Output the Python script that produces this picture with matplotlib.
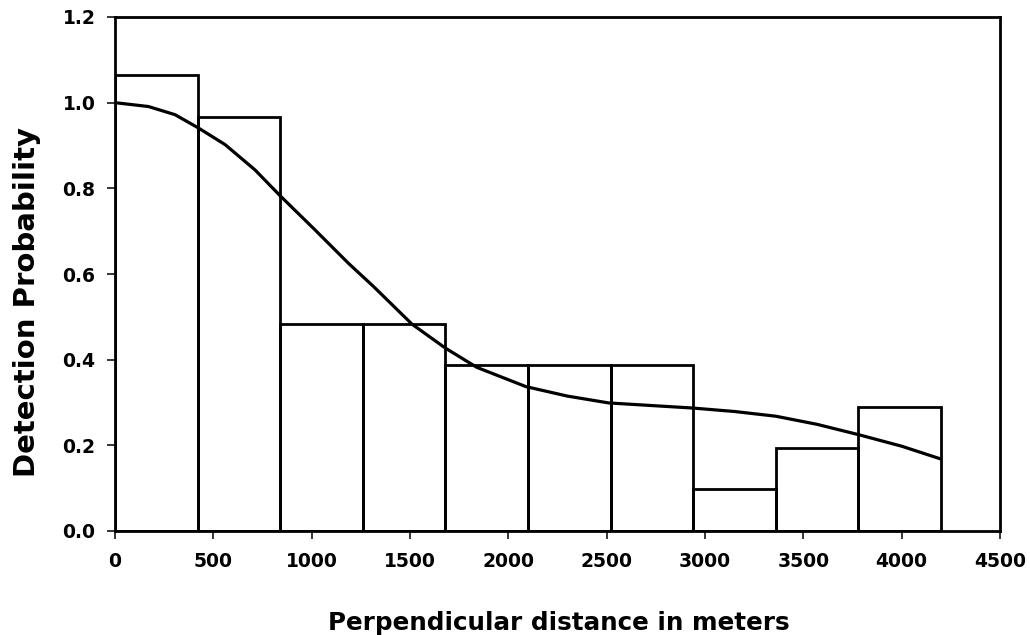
import matplotlib
matplotlib.use("Agg")
import matplotlib.pyplot as plt

# Histogram bins (perpendicular distance, m) and detection probabilities
bin_left = [0, 420, 840, 1260, 1680, 2100, 2520, 2940, 3360, 3780]
bin_width = 420
bar_heights = [1.064, 0.967, 0.484, 0.484, 0.387, 0.387, 0.387, 0.097, 0.194, 0.290]

# Fitted detection function
curve_x = [0, 170, 305, 424, 560, 712, 839, 1017, 1187, 1314, 1510, 1680, 1840,
           2090, 2300, 2510, 2940, 3150, 3360, 3570, 3780, 4000, 4200]
curve_y = [1.0, 0.991, 0.972, 0.941, 0.902, 0.843, 0.783, 0.703, 0.625, 0.571, 0.483,
           0.427, 0.382, 0.337, 0.315, 0.299, 0.287, 0.279, 0.268, 0.249, 0.225, 0.198, 0.168]

x_ticks = [0, 500, 1000, 1500, 2000, 2500, 3000, 3500, 4000, 4500]
y_ticks = [0.0, 0.2, 0.4, 0.6, 0.8, 1.0, 1.2]

W, H = 1030, 635
fig = plt.figure(figsize=(W / 100, H / 100), dpi=100)
left, right, top, bottom = 115, 1000, 17, 531
ax = fig.add_axes([left / W, 1 - bottom / H, (right - left) / W, (bottom - top) / H])

ax.bar(bin_left, bar_heights, width=bin_width, align='edge', fill=False,
       edgecolor='black', linewidth=2.0, zorder=2)
ax.plot(curve_x, curve_y, color='black', linewidth=2.3, zorder=3,
        solid_joinstyle='round', solid_capstyle='butt')

ax.set_xlim(0, 4500)
ax.set_ylim(0, 1.2)
ax.set_xticks(x_ticks)
ax.set_yticks(y_ticks)
ax.set_xticklabels([str(v) for v in x_ticks])
ax.set_yticklabels([f"{v:.1f}" for v in y_ticks])

for s in ax.spines.values():
    s.set_linewidth(2.0)
    s.set_color('black')

font = 'DejaVu Sans'
ax.tick_params(axis='both', direction='out', length=6, width=1.1, color='black')
ax.tick_params(axis='y', pad=8)
ax.tick_params(axis='x', pad=9)
for lab in ax.get_xticklabels() + ax.get_yticklabels():
    lab.set_fontfamily(font)
    lab.set_fontweight('bold')
    lab.set_fontsize(13.5)

fig.text(559 / W, 1 - 630 / H, "Perpendicular distance in meters", ha='center',
         va='baseline', fontsize=17.75, fontweight='bold', family=font)
fig.text(27 / W, 1 - 301.7 / H, "Detection Probability", ha='center', va='center',
         rotation=90, fontsize=21, fontweight='bold', family=font)

fig.savefig("out.png", dpi=100)
